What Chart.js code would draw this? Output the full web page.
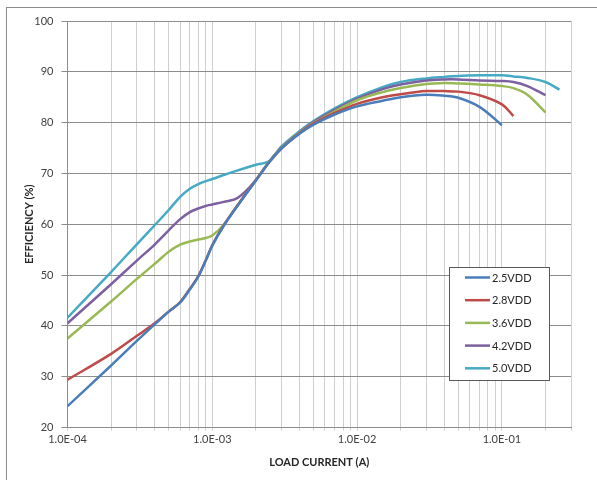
<!DOCTYPE html>
<html>
<head>
<meta charset="utf-8">
<title>Efficiency vs Load Current</title>
<script src="https://cdn.jsdelivr.net/npm/chart.js@4.4.1/dist/chart.umd.min.js"></script>
<style>
    body { margin: 0; background: #fff; }
    #frame { position: absolute; left: 6px; top: 7px; width: 640px; height: 520px; border: 1px solid #8c8c8c; }
    #wrap { position: absolute; left: 0; top: 0; width: 597px; height: 480px; }
</style>
</head>
<body>
<div id="frame"></div>
<div id="wrap"><canvas id="effChart" width="597" height="480"></canvas></div>
<script>
// load current (A), shared by all supply voltages
const current = [1e-4, 2e-4, 3e-4, 4e-4, 5e-4, 6e-4, 7e-4, 8e-4, 9e-4, 1e-3,
    1.2e-3, 1.5e-3, 2e-3, 2.5e-3, 3e-3, 4e-3, 5e-3, 7e-3, 1e-2, 1.5e-2,
    2e-2, 3e-2, 4e-2, 5e-2, 7e-2, 1e-1, 1.2e-1, 1.5e-1, 2e-1, 2.5e-1];

// efficiency (%) per supply
const eff25 = [24.2, 32.2, 37.0, 40.3, 42.8, 44.6, 47.2, 49.7, 52.8, 55.8,
    59.7, 63.7, 68.6, 72.4, 74.9, 77.8, 79.6, 81.6, 83.2, 84.3,
    85.0, 85.5, 85.3, 84.9, 83.1, 79.5, null, null, null, null];
const eff28 = [29.4, 34.5, 38.0, 40.5, 42.8, 44.7, 47.3, 49.8, 52.9, 55.9,
    59.8, 63.8, 68.7, 72.4, 74.9, 77.9, 79.8, 81.9, 83.7, 85.0,
    85.6, 86.2, 86.2, 86.1, 85.4, 83.6, 81.3, null, null, null];
const eff36 = [37.5, 44.8, 49.2, 52.2, 54.6, 56.0, 56.6, 57.0, 57.3, 57.8,
    59.9, 63.8, 68.7, 72.5, 75.0, 78.0, 79.9, 82.2, 84.4, 86.0,
    86.8, 87.6, 87.8, 87.7, 87.5, 87.2, 86.8, 85.5, 82.0, null];
const eff42 = [40.5, 48.2, 52.8, 56.0, 58.8, 61.0, 62.4, 63.1, 63.6, 63.9,
    64.4, 65.2, 68.7, 72.5, 75.1, 78.1, 80.1, 82.5, 84.7, 86.6,
    87.5, 88.3, 88.5, 88.5, 88.3, 88.2, 88.0, 87.2, 85.4, null];
const eff50 = [41.6, 50.6, 56.0, 59.8, 62.8, 65.4, 67.0, 67.9, 68.5, 68.9,
    69.7, 70.6, 71.7, 72.5, 75.3, 78.3, 80.3, 82.8, 85.0, 87.0,
    88.0, 88.7, 89.0, 89.2, 89.3, 89.3, 89.1, 88.8, 88.0, 86.5];

const seriesNames = ["2.5VDD", "2.8VDD", "3.6VDD", "4.2VDD", "5.0VDD"];
const seriesColors = ["#4a7ebb", "#be4b48", "#98b954", "#7d60a0", "#46aac5"];
const seriesData = [eff25, eff28, eff36, eff42, eff50];

// x axis labels sit on the decades only
const decades = [1e-4, 1e-3, 1e-2, 1e-1];
const xTickLabels = ["1.0E-04", "1.0E-03", "1.0E-02", "1.0E-01"];

const X_MIN = 1e-4, X_MAX = 0.3;
const FONT = "Lato, 'Open Sans', sans-serif";

// gridlines at 1..9 of every decade
function logGridValues() {
    const vals = [];
    decades.forEach(d => {
        for (let k = 1; k <= 9; k++) {
            const v = d * k;
            if (v <= X_MAX * 1.0001) vals.push(v);
        }
    });
    return vals;
}

function decadeLabel(v) {
    for (let i = 0; i < decades.length; i++) {
        if (Math.abs(v / decades[i] - 1) < 1e-6) return xTickLabels[i];
    }
    return "";
}

// legend drawn inside the plot, lower right
const insideLegend = {
    id: "insideLegend",
    afterDraw(chart) {
        const ctx = chart.ctx;
        const bx = 449.5, by = 267.5, bw = 100, bh = 113;
        ctx.save();
        ctx.fillStyle = "#fff";
        ctx.fillRect(bx, by, bw, bh);
        ctx.strokeStyle = "#595959";
        ctx.lineWidth = 1;
        ctx.strokeRect(bx, by, bw, bh);

        ctx.font = "11px " + FONT;
        ctx.textBaseline = "middle";
        chart.data.datasets.forEach((ds, i) => {
            const y = 277.5 + i * 22.7;
            ctx.strokeStyle = ds.borderColor;
            ctx.lineWidth = 2.5;
            ctx.beginPath();
            ctx.moveTo(465, y);
            ctx.lineTo(490, y);
            ctx.stroke();
            ctx.fillStyle = "#262626";
            ctx.fillText(ds.label, 492, y + 0.5);
        });
        ctx.restore();
    }
};

function createChart() {
    const ctx = document.getElementById("effChart");

    const datasets = seriesNames.map((name, i) => ({
        label: name,
        data: current.map((c, j) => ({ x: c, y: seriesData[i][j] })),
        borderColor: seriesColors[i],
        backgroundColor: seriesColors[i],
        borderWidth: 2.5,
        pointRadius: 0,
        tension: 0.35,
        fill: false
    }));

    new Chart(ctx, {
        type: "line",
        data: { datasets: datasets },
        options: {
            responsive: false,
            animation: false,
            layout: { padding: { top: 21, right: 26, left: 0, bottom: 0 } },
            plugins: {
                legend: { display: false },
                tooltip: { enabled: false }
            },
            scales: {
                x: {
                    type: "logarithmic",
                    min: X_MIN,
                    max: X_MAX,
                    afterBuildTicks: scale => {
                        scale.ticks = logGridValues().map(v => ({ value: v }));
                    },
                    afterFit: scale => { scale.height = 52.5; },
                    ticks: {
                        autoSkip: false,
                        maxRotation: 0,
                        padding: 2,
                        color: "#404040",
                        font: { family: FONT, size: 11 },
                        callback: v => decadeLabel(v)
                    },
                    grid: { color: "#cfcfcf", lineWidth: 1, tickLength: 3 },
                    border: { color: "#8c8c8c" },
                    title: {
                        display: true,
                        text: "LOAD CURRENT (A)",
                        color: "#262626",
                        font: { family: FONT, size: 11, weight: "bold" },
                        padding: { top: 0, bottom: 11 }
                    }
                },
                y: {
                    min: 20,
                    max: 100,
                    afterFit: scale => { scale.width = 67.5; },
                    ticks: {
                        stepSize: 10,
                        padding: 8,
                        color: "#404040",
                        font: { family: FONT, size: 11 }
                    },
                    grid: { color: "#8c8c8c", lineWidth: 1, tickLength: 6 },
                    border: { color: "#8c8c8c" },
                    title: {
                        display: true,
                        text: "EFFICIENCY (%)",
                        color: "#262626",
                        font: { family: FONT, size: 11, weight: "bold" },
                        padding: { top: 23, bottom: 0 }
                    }
                }
            }
        },
        plugins: [insideLegend]
    });
}

createChart();
</script>
</body>
</html>
